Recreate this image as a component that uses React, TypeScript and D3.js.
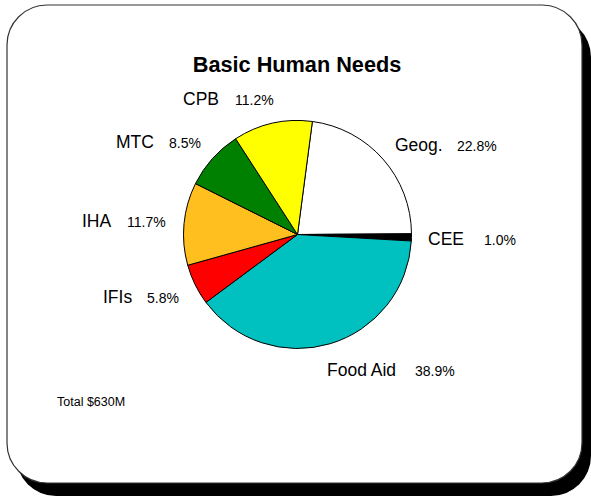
import React from "react";
import * as d3 from "d3";

const categories = ["Geog.", "CEE", "Food Aid", "IFIs", "IHA", "MTC", "CPB"];
const shares = [22.8, 1.0, 38.9, 5.8, 11.7, 8.5, 11.2];
const pctLabels = ["22.8%", "1.0%", "38.9%", "5.8%", "11.7%", "8.5%", "11.2%"];
const colors = ["#FFFFFF", "#000000", "#00C0C0", "#FF0000", "#FFBF1F", "#008000", "#FFFF00"];
const title = "Basic Human Needs";
const totalNote = "Total $630M";

// label layout (name x, percent x, baseline y)
const labelLayout: Record<string, [number, number, number]> = {
  "Geog.": [395, 457, 151],
  CEE: [428, 484, 245],
  "Food Aid": [327, 415, 376],
  IFIs: [103, 147, 303],
  IHA: [82, 127, 227],
  MTC: [116, 169, 148],
  CPB: [183, 235, 105],
};

export default function App() {
  const W = 591;
  const H = 496;
  const cx = 297.5;
  const cy = 234.5;
  const r = 114;
  const start = (7.5 * Math.PI) / 180;
  const pie = d3
    .pie<number>()
    .sort(null)
    .value((d) => d)
    .startAngle(start)
    .endAngle(start + 2 * Math.PI);
  const arcs = pie(shares);
  const arc = d3.arc<d3.PieArcDatum<number>>().innerRadius(0).outerRadius(r);
  const font = "'Liberation Sans', Arial, sans-serif";

  return (
    <div style={{ position: "absolute", left: 0, top: 0 }}>
      <svg width={W} height={H} style={{ display: "block" }}>
        <rect x={0} y={0} width={W} height={H} fill="#fff" />
        <rect x={16} y={17} width={575} height={479} rx={40} ry={40} fill="#000" />
        <rect x={7} y={5} width={575} height={478} rx={40} ry={40} fill="#fff" stroke="#333" strokeWidth={1.2} />
        <text x={297} y={72} textAnchor="middle" fontFamily={font} fontWeight="bold" fontSize={21.7} fill="#000">
          {title}
        </text>
        <g transform={`translate(${cx},${cy})`}>
          {arcs.map((a, i) => (
            <path key={categories[i]} d={arc(a) || ""} fill={colors[i]} stroke="#000" strokeWidth={1} strokeLinejoin="round" />
          ))}
        </g>
        {categories.map((c, i) => {
          const [nx, px, y] = labelLayout[c];
          return (
            <g key={c} fontFamily={font} fill="#000">
              <text x={nx} y={y} fontSize={17.5}>{c}</text>
              <text x={px} y={y} fontSize={14}>{pctLabels[i]}</text>
            </g>
          );
        })}
        <text x={57} y={406} fontFamily={font} fontSize={12.5} fill="#000">
          {totalNote}
        </text>
      </svg>
    </div>
  );
}
